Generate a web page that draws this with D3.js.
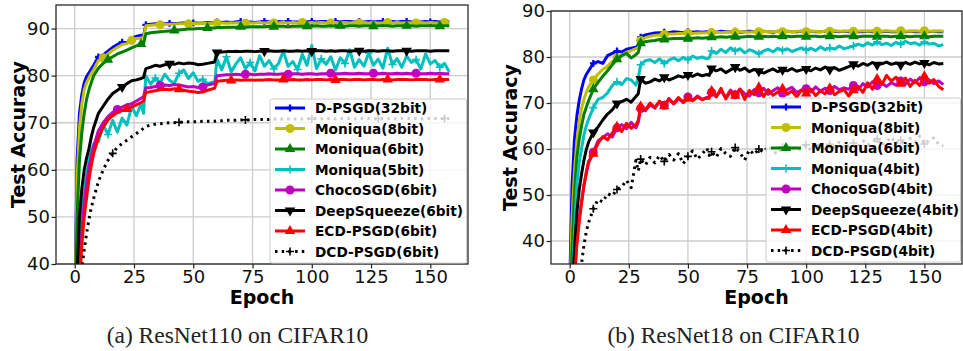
<!DOCTYPE html>
<html>
<head>
<meta charset="utf-8">
<script src="https://cdn.jsdelivr.net/npm/d3@7"></script>
<style>
  body { margin: 0; background: #fff; }
  svg text { font-family: "DejaVu Sans", sans-serif; }
</style>
</head>
<body>
<svg id="chart" width="963" height="351"></svg>
<script>
const epochs = [0,1,2,3,4,5,6,7,8,
  10,12,14,16,18,20,22,24,26,28,
  29,
  30,32,34,36,38,40,42,44,46,48,50,52,54,56,58,
  59,
  60,62,64,66,68,70,72,74,76,78,
  80,82,84,86,88,90,92,94,96,98,
  100,102,104,106,108,110,112,114,116,118,
  120,122,124,126,128,130,132,134,136,138,
  140,142,144,146,148,150,152,154,156,158];

const xTicks = [0, 25, 50, 75, 100, 125, 150];
const yTicksA = [40, 50, 60, 70, 80, 90];
const yTicksB = [40, 50, 60, 70, 80, 90];

const namesA = ['D-PSGD(32bit)', 'Moniqua(8bit)', 'Moniqua(6bit)', 'Moniqua(5bit)',
  'ChocoSGD(6bit)', 'DeepSqueeze(6bit)', 'ECD-PSGD(6bit)', 'DCD-PSGD(6bit)'];
const namesB = ['D-PSGD(32bit)', 'Moniqua(8bit)', 'Moniqua(6bit)', 'Moniqua(4bit)',
  'ChocoSGD(4bit)', 'DeepSqueeze(4bit)', 'ECD-PSGD(4bit)', 'DCD-PSGD(4bit)'];

// ---- (a) ResNet110 on CIFAR10 ----
const a_dpsgd = [30, 62, 72, 76, 78.5, 79.8, 80.6, 81.4, 82.2,
  84.0, 84.4, 85.2, 86.0, 86.6, 87.1, 86.9, 88.0, 88.3, 88.6,
  88.4,
  90.8, 90.9, 91.0, 90.9, 91.0, 91.1, 91.0, 91.1, 91.2, 91.1, 91.2, 91.1, 91.2, 91.3, 91.2,
  91.2,
  91.4, 91.3, 91.4, 91.3, 91.4, 91.5, 91.4, 91.4, 91.3, 91.4,
  91.5, 91.4, 91.4, 91.5, 91.4, 91.5, 91.4, 91.4, 91.5, 91.4,
  91.5, 91.4, 91.5, 91.5, 91.4, 91.5, 91.4, 91.5, 91.5, 91.4,
  91.5, 91.4, 91.5, 91.4, 91.5, 91.5, 91.4, 91.5, 91.4, 91.5,
  91.5, 91.4, 91.5, 91.4, 91.5, 91.4, 91.5, 91.4, 91.5, 91.4];
const a_moniqua8 = [28, 58, 69, 74, 77, 78.5, 79.5, 80.5, 81.3,
  83.2, 83.8, 84.6, 85.4, 86.0, 86.6, 86.8, 87.5, 87.9, 88.0,
  88.1,
  90.6, 90.7, 90.8, 90.8, 90.9, 90.9, 90.9, 91.0, 91.0, 91.0, 91.1, 91.0, 91.1, 91.1, 91.0,
  91.1,
  91.2, 91.2, 91.1, 91.2, 91.2, 91.3, 91.2, 91.2, 91.2, 91.3,
  91.2, 91.3, 91.2, 91.2, 91.3, 91.2, 91.3, 91.2, 91.3, 91.2,
  91.3, 91.2, 91.3, 91.2, 91.2, 91.3, 91.2, 91.3, 91.2, 91.3,
  91.2, 91.3, 91.2, 91.3, 91.2, 91.2, 91.3, 91.2, 91.3, 91.2,
  91.3, 91.2, 91.2, 91.3, 91.2, 91.3, 91.2, 91.2, 91.3, 91.2];
const a_moniqua6 = [24, 50, 62, 68, 72, 75, 77, 78.6, 80,
  81.6, 82.6, 83.4, 84.0, 84.6, 85.0, 85.4, 85.9, 86.3, 86.7,
  86.7,
  88.9, 89.1, 89.2, 89.3, 89.4, 89.5, 89.6, 89.7, 89.8, 89.9, 89.9, 90.0, 90.0, 90.1, 90.1,
  90.1,
  90.2, 90.2, 90.3, 90.3, 90.3, 90.4, 90.3, 90.4, 90.4, 90.4,
  90.4, 90.5, 90.4, 90.5, 90.5, 90.4, 90.5, 90.5, 90.5, 90.5,
  90.5, 90.6, 90.5, 90.5, 90.6, 90.5, 90.6, 90.5, 90.6, 90.6,
  90.5, 90.6, 90.6, 90.5, 90.6, 90.6, 90.6, 90.5, 90.6, 90.6,
  90.6, 90.6, 90.5, 90.6, 90.6, 90.6, 90.6, 90.5, 90.6, 90.6];
const a_moniqua5 = [18, 32, 42, 50, 55, 59, 62, 64, 65.5,
  66.0, 69.5, 67.5, 70.5, 68.0, 71.0, 69.5, 73.5, 71.5, 74.0,
  72.0,
  80.0, 78.2, 79.5, 78.5, 80.3, 79.0, 78.4, 80.5, 81.2, 79.4, 80.6, 78.8, 79.2, 78.3, 78.6,
  78.2,
  83.5, 81.2, 84.0, 80.8, 82.5, 83.8, 81.5, 82.8, 81.0, 84.2,
  82.0, 83.2, 81.4, 82.6, 85.2, 82.0, 83.0, 81.3, 84.5, 82.2,
  86.4, 81.5, 83.6, 82.4, 84.0, 81.2, 83.8, 82.6, 85.5, 81.8,
  83.4, 82.0, 84.8, 82.2, 83.5, 81.6, 85.8, 82.4, 83.6, 81.8,
  84.2, 82.8, 83.4, 81.4, 84.6, 82.5, 83.2, 81.8, 82.6, 80.8];
const a_choco = [20, 30, 40, 47, 53, 57, 60.5, 63, 65,
  68.3, 70.0, 71.3, 72.2, 72.8, 73.3, 73.8, 74.0, 74.6, 75.2,
  75.5,
  77.4, 77.5, 77.7, 77.9, 78.0, 77.9, 78.1, 78.0, 77.8, 77.6, 77.7, 77.5, 77.6, 78.0, 78.2,
  78.3,
  80.0, 80.1, 80.2, 80.2, 80.3, 80.2, 80.3, 80.3, 80.2, 80.3,
  80.3, 80.4, 80.3, 80.3, 80.4, 80.3, 80.4, 80.4, 80.3, 80.4,
  80.4, 80.3, 80.4, 80.4, 80.5, 80.4, 80.4, 80.5, 80.4, 80.4,
  80.5, 80.4, 80.4, 80.5, 80.4, 80.5, 80.4, 80.4, 80.5, 80.4,
  80.5, 80.4, 80.5, 80.4, 80.4, 80.5, 80.4, 80.5, 80.4, 80.4];
const a_deepsq = [20, 38, 50, 56, 60, 62.5, 64.5, 67, 69,
  72.0, 73.5, 75.0, 76.2, 76.9, 77.6, 78.3, 78.9, 79.1, 79.4,
  79.6,
  81.5, 81.8, 82.2, 82.0, 82.3, 82.5, 82.4, 82.7, 82.5, 82.7, 82.6, 82.3, 82.4, 82.6, 82.8,
  82.9,
  84.9, 85.0, 85.1, 85.1, 85.2, 85.1, 85.2, 85.2, 85.1, 85.2,
  85.2, 85.3, 85.2, 85.2, 85.3, 85.2, 85.2, 85.3, 85.2, 85.3,
  85.2, 85.3, 85.3, 85.2, 85.3, 85.2, 85.3, 85.3, 85.2, 85.3,
  85.3, 85.2, 85.3, 85.3, 85.2, 85.3, 85.3, 85.2, 85.3, 85.3,
  85.3, 85.2, 85.3, 85.3, 85.3, 85.2, 85.3, 85.3, 85.3, 85.3];
const a_ecd = [10, 22, 35, 44, 50, 54, 58, 61, 63.5,
  66.8, 69.0, 70.6, 71.5, 72.2, 72.6, 72.9, 73.3, 73.8, 74.3,
  74.6,
  76.4, 76.6, 76.8, 77.0, 77.1, 77.0, 77.2, 77.1, 76.9, 76.7, 76.6, 76.4, 76.5, 76.9, 77.2,
  77.3,
  78.8, 78.9, 79.0, 79.0, 79.1, 79.0, 79.1, 79.1, 79.0, 79.1,
  79.1, 79.2, 79.1, 79.1, 79.2, 79.1, 79.2, 79.1, 79.1, 79.2,
  79.1, 79.2, 79.2, 79.1, 79.2, 79.1, 79.2, 79.2, 79.1, 79.2,
  79.2, 79.1, 79.2, 79.2, 79.1, 79.2, 79.2, 79.1, 79.2, 79.2,
  79.2, 79.1, 79.2, 79.2, 79.2, 79.1, 79.2, 79.2, 79.2, 79.2];
const a_dcd = [10, 20, 30, 39, 43, 46.5, 49.5, 52, 54,
  57.5, 60.0, 62.0, 63.5, 64.8, 65.6, 66.3, 67.0, 67.7, 68.4,
  68.8,
  69.2, 69.5, 69.7, 69.8, 69.9, 70.0, 70.0, 70.1, 70.1, 70.2, 70.2, 70.2, 70.3, 70.3, 70.3,
  70.3,
  70.4, 70.4, 70.5, 70.5, 70.5, 70.6, 70.6, 70.6, 70.7, 70.7,
  70.7, 70.7, 70.8, 70.7, 70.8, 70.8, 70.8, 70.8, 70.8, 70.9,
  70.8, 70.9, 70.8, 70.9, 70.9, 70.8, 70.9, 70.9, 70.9, 70.8,
  70.9, 70.9, 70.9, 70.8, 70.9, 70.9, 70.9, 70.9, 70.8, 70.9,
  70.9, 70.9, 70.9, 70.8, 70.9, 70.9, 70.9, 70.8, 70.9, 70.9];

// ---- (b) ResNet18 on CIFAR10 ----
const b_dpsgd = [30, 52, 62, 67, 70.5, 73, 75, 76.2, 77,
  78.6, 79.0, 78.6, 80.3, 80.8, 81.3, 81.1, 81.7, 81.9, 82.1,
  82.4,
  84.3, 84.8, 85.0, 85.2, 85.3, 85.4, 85.3, 85.5, 85.4, 85.3, 85.5, 85.4, 85.5, 85.4, 85.5,
  85.4,
  85.5, 85.4, 85.6, 85.5, 85.5, 85.6, 85.4, 85.5, 85.6, 85.5,
  85.5, 85.6, 85.5, 85.4, 85.6, 85.5, 85.6, 85.5, 85.5, 85.6,
  85.5, 85.6, 85.5, 85.5, 85.6, 85.5, 85.6, 85.5, 85.6, 85.5,
  85.6, 85.5, 85.5, 85.6, 85.5, 85.6, 85.5, 85.6, 85.5, 85.5,
  85.6, 85.5, 85.6, 85.5, 85.5, 85.6, 85.5, 85.6, 85.5, 85.5];
const b_moniqua8 = [26, 45, 55, 61.5, 66, 68.8, 70.8, 72.3, 73.5,
  75.0, 76.3, 77.3, 78.0, 79.0, 79.8, 80.4, 81.0, 81.4, 81.8,
  82.0,
  83.6, 84.2, 84.5, 84.7, 84.8, 84.9, 85.0, 85.0, 85.1, 85.1, 85.2, 85.1, 85.2, 85.2, 85.3,
  85.2,
  85.3, 85.4, 85.3, 85.4, 85.5, 85.4, 85.5, 85.5, 85.4, 85.5,
  85.5, 85.6, 85.5, 85.5, 85.6, 85.5, 85.6, 85.5, 85.6, 85.6,
  85.5, 85.6, 85.6, 85.5, 85.6, 85.6, 85.7, 85.6, 85.6, 85.7,
  85.6, 85.6, 85.7, 85.6, 85.7, 85.6, 85.6, 85.7, 85.6, 85.6,
  85.7, 85.6, 85.6, 85.7, 85.6, 85.7, 85.6, 85.6, 85.7, 85.6];
const b_moniqua6 = [24, 38, 50, 58, 62, 65, 67.5, 69, 70.5,
  73.0, 74.5, 75.8, 77.0, 78.3, 79.5, 80.3, 80.8, 79.8, 80.5,
  81.0,
  83.0, 83.3, 83.5, 83.6, 83.8, 83.8, 83.9, 84.0, 84.0, 84.1, 84.0, 84.1, 84.2, 84.1, 84.2,
  84.2,
  84.3, 84.3, 84.4, 84.3, 84.4, 84.4, 84.3, 84.4, 84.5, 84.4,
  84.4, 84.5, 84.4, 84.5, 84.4, 84.5, 84.5, 84.4, 84.5, 84.5,
  84.4, 84.5, 84.5, 84.4, 84.5, 84.5, 84.5, 84.4, 84.5, 84.5,
  84.5, 84.4, 84.5, 84.5, 84.5, 84.4, 84.5, 84.5, 84.4, 84.5,
  84.5, 84.5, 84.4, 84.5, 84.5, 84.5, 84.4, 84.5, 84.5, 84.5];
const b_moniqua4 = [18, 30, 42, 52, 57, 60, 63, 65, 66.5,
  69.0, 70.8, 71.2, 72.2, 73.8, 74.6, 74.0, 75.3, 75.0, 73.9,
  75.5,
  78.3, 79.2, 79.4, 78.8, 79.6, 78.6, 79.3, 79.8, 79.2, 79.9, 79.4, 80.2, 79.7, 80.0, 79.6,
  79.8,
  81.3, 80.8, 81.7, 81.0, 82.0, 81.3, 81.8, 80.9, 81.6, 81.2,
  80.7, 81.3, 81.7, 81.1, 81.9, 81.4, 81.8, 81.2, 81.6, 82.0,
  81.5, 81.9, 81.4, 82.2, 81.6, 82.0, 81.7, 82.4, 81.8, 82.1,
  82.4, 82.8, 82.4, 83.1, 82.6, 83.3, 82.7, 83.0, 82.5, 83.2,
  82.8, 83.4, 82.9, 83.1, 82.6, 83.3, 82.8, 83.0, 82.4, 82.7];
const b_choco = [10, 22, 33, 40, 45, 48.5, 52, 54.5, 57,
  59.3, 61.8, 62.5, 63.3, 62.6, 64.6, 65.3, 64.4, 65.8, 64.6,
  65.8,
  68.8, 68.3, 69.6, 68.9, 70.3, 69.5, 71.0, 69.8, 70.9, 70.3, 71.3, 70.6, 71.5, 70.8, 71.2,
  71.4,
  72.3, 71.5, 72.6, 71.2, 72.8, 71.8, 73.0, 72.0, 71.5, 72.9,
  72.2, 73.2, 71.9, 72.7, 73.3, 72.1, 72.9, 73.4, 72.3, 72.8,
  73.1, 72.4, 73.5, 72.6, 73.2, 72.7, 73.6, 72.9, 73.3, 73.0,
  73.8, 72.9, 74.2, 73.5, 74.6, 73.8, 74.3, 73.6, 74.4, 73.9,
  74.8, 74.1, 75.2, 74.4, 75.5, 74.6, 75.0, 74.2, 74.8, 74.0];
const b_deepsq = [15, 28, 38, 46, 51, 54.5, 57.5, 59.8, 61.5,
  63.6, 64.8, 66.3, 67.6, 68.5, 69.9, 70.3, 70.8, 70.2, 71.4,
  72.0,
  75.2, 74.3, 74.6, 75.2, 74.8, 75.6, 75.0, 75.4, 75.9, 75.6, 76.1, 75.8, 76.3, 75.9, 76.2,
  76.0,
  77.5, 77.0, 77.4, 76.6, 77.2, 77.8, 77.1, 77.6, 76.8, 77.3,
  76.9, 76.5, 77.0, 77.4, 76.8, 77.2, 77.0, 77.5, 76.9, 77.2,
  77.4, 77.0, 77.6, 77.2, 77.8, 77.3, 77.7, 77.1, 77.5, 77.9,
  78.4, 78.0, 78.6, 78.2, 78.8, 78.3, 78.5, 78.9, 78.4, 78.7,
  78.3, 78.8, 78.4, 78.9, 78.5, 78.7, 78.3, 78.8, 78.5, 78.6];
const b_ecd = [8, 20, 31, 39, 44, 48.2, 52, 55, 57.3,
  59.0, 61.2, 62.7, 62.0, 63.5, 64.8, 63.8, 65.6, 64.5, 65.3,
  66.2,
  69.2, 68.5, 70.0, 69.0, 70.4, 69.3, 70.8, 69.9, 71.2, 70.1, 71.0, 70.5, 71.3, 70.7, 71.1,
  71.0,
  72.6, 71.3, 73.2, 70.9, 72.5, 71.6, 73.0, 70.8, 72.7, 71.8,
  73.4, 71.4, 72.9, 71.7, 72.4, 73.1, 71.9, 72.6, 71.3, 72.8,
  72.1, 73.0, 71.6, 72.6, 72.0, 73.2, 71.8, 72.5, 72.9, 71.5,
  72.8, 73.6, 72.3, 74.4, 73.0, 75.2, 74.0, 76.0, 74.8, 75.6,
  74.2, 75.4, 73.6, 74.9, 73.8, 75.8, 74.3, 75.1, 73.6, 72.9];
const b_dcd = [5, 15, 22, 28, 32, 35, 39, 42, 44,
  47.0, 49.0, 48.5, 50.3, 49.8, 51.2, 51.8, 53.2, 51.6, 57.5,
  55.2,
  57.8, 56.5, 58.2, 57.0, 58.6, 57.3, 58.8, 57.6, 59.0, 56.8, 58.4, 59.6, 57.8, 58.9, 60.2,
  58.6,
  59.4, 58.2, 60.1, 59.0, 58.4, 60.3, 59.2, 57.6, 59.8, 58.8,
  60.0, 59.3, 60.6, 59.5, 58.9, 60.4, 59.8, 60.8, 59.6, 60.2,
  60.9, 59.7, 61.2, 60.3, 59.9, 61.0, 60.4, 61.5, 60.1, 60.8,
  61.3, 60.6, 61.8, 60.9, 61.4, 62.2, 60.8, 61.6, 62.6, 61.2,
  61.9, 60.7, 62.3, 61.5, 62.8, 61.1, 61.9, 62.4, 61.0, 60.6];

// line styles, same order as the names
const styles = [
  {color: '#0000ff', marker: 'P'},
  {color: '#bfbf00', marker: 'o'},
  {color: '#008000', marker: '^'},
  {color: '#00bfbf', marker: '+'},
  {color: '#bf00bf', marker: 'o'},
  {color: '#000000', marker: 'v'},
  {color: '#ff0000', marker: '^'},
  {color: '#000000', marker: '+', dash: '2.5,4.2'}
];

const svg = d3.select('#chart');

function marker(sel, type, color) {
  if (type === 'o') {
    sel.append('circle').attr('r', 4.5).attr('fill', color);
  } else if (type === '^' || type === 'v') {
    sel.append('path')
      .attr('d', d3.symbol(d3.symbolTriangle, 48)())
      .attr('transform', type === 'v' ? 'rotate(180)' : null)
      .attr('fill', color);
  } else if (type === 'P') {
    sel.append('path').attr('d', d3.symbol(d3.symbolCross, 26)()).attr('fill', color);
  } else {
    sel.append('path').attr('d', 'M-4,0H4M0,-4V4')
      .attr('stroke', color).attr('stroke-width', 1.6).attr('fill', 'none');
  }
}

function panel(o) {
  const x = d3.scaleLinear().domain([-7.9, 165.9]).range([o.left, o.right]);
  const y = d3.scaleLinear().domain(o.yDomain).range([o.bottom, o.top]);
  const g = svg.append('g');

  g.append('clipPath').attr('id', 'clip' + o.id).append('rect')
    .attr('x', o.left).attr('y', o.top)
    .attr('width', o.right - o.left).attr('height', o.bottom - o.top);

  // grid
  g.append('g').selectAll('line').data(xTicks).join('line')
    .attr('x1', d => x(d)).attr('x2', d => x(d))
    .attr('y1', o.top).attr('y2', o.bottom)
    .attr('stroke', '#cccccc').attr('stroke-width', 1.3);
  g.append('g').selectAll('line').data(o.yTicks).join('line')
    .attr('x1', o.left).attr('x2', o.right)
    .attr('y1', d => y(d)).attr('y2', d => y(d))
    .attr('stroke', '#cccccc').attr('stroke-width', 1.3);

  const plot = g.append('g').attr('clip-path', `url(#clip${o.id})`);
  const line = d3.line().x((d, i) => x(epochs[i])).y(d => y(d));

  o.series.forEach((s, k) => {
    const st = styles[k];
    plot.append('path').datum(s)
      .attr('d', line)
      .attr('fill', 'none')
      .attr('stroke', st.color)
      .attr('stroke-width', 3)
      .attr('stroke-linejoin', 'round')
      .attr('stroke-dasharray', st.dash || null);
    const every = o.every[k];
    const pts = s.map((v, i) => [epochs[i], v])
      .filter(p => p[0] > 0 && p[0] % every[0] === every[1]);
    plot.append('g').selectAll('g').data(pts).join('g')
      .attr('transform', p => `translate(${x(p[0])},${y(p[1])})`)
      .each(function () { marker(d3.select(this), st.marker, st.color); });
  });

  // frame
  g.append('rect')
    .attr('x', o.left).attr('y', o.top)
    .attr('width', o.right - o.left).attr('height', o.bottom - o.top)
    .attr('fill', 'none').attr('stroke', '#222').attr('stroke-width', 1.25);

  const ax = g.append('g').attr('transform', `translate(0,${o.bottom})`)
    .call(d3.axisBottom(x).tickValues(xTicks).tickSize(4.5).tickPadding(1.5));
  const ay = g.append('g').attr('transform', `translate(${o.left},0)`)
    .call(d3.axisLeft(y).tickValues(o.yTicks).tickSize(4.5).tickPadding(1.5));
  [ax, ay].forEach(a => {
    a.attr('font-family', null).attr('font-size', null);
    a.select('.domain').remove();
    a.selectAll('.tick line').attr('stroke', '#222').attr('stroke-width', 1.2);
    a.selectAll('text').attr('font-size', 18).attr('fill', '#111');
  });

  g.append('text')
    .attr('x', (o.left + o.right) / 2).attr('y', 304)
    .attr('text-anchor', 'middle')
    .attr('font-size', 19).attr('font-weight', 'bold')
    .text('Epoch');
  g.append('text')
    .attr('transform', `translate(${o.yLabelX},${(o.top + o.bottom) / 2}) rotate(-90)`)
    .attr('text-anchor', 'middle')
    .attr('font-size', 19).attr('font-weight', 'bold')
    .text('Test Accuracy');

  // legend
  const lg = g.append('g').attr('transform', `translate(${o.legend[0]},${o.legend[1]})`);
  lg.append('rect')
    .attr('x', 0).attr('y', 0).attr('width', o.right - 1.5 - o.legend[0]).attr('height', 164)
    .attr('rx', 2)
    .attr('fill', '#fff').attr('fill-opacity', 0.8)
    .attr('stroke', '#cccccc').attr('stroke-width', 1);
  o.names.forEach((name, k) => {
    const st = styles[k];
    const row = lg.append('g').attr('transform', `translate(0,${9 + k * 20.5})`);
    row.append('line').attr('x1', 5).attr('x2', 35)
      .attr('stroke', st.color).attr('stroke-width', 3)
      .attr('stroke-dasharray', st.dash || null);
    marker(row.append('g').attr('transform', 'translate(20,0)'), st.marker, st.color);
    row.append('text').attr('x', 45).attr('y', 5)
      .attr('font-size', 13.7).attr('font-weight', 'bold')
      .text(name);
  });

  svg.append('text')
    .attr('x', o.captionX).attr('y', 343)
    .attr('text-anchor', 'middle')
    .style('font-family', '"Liberation Serif", "Times New Roman", serif')
    .attr('font-size', 23.5).attr('fill', '#222')
    .text(o.caption);
}

panel({
  id: 'a', left: 56, right: 468, top: 5, bottom: 264,
  yDomain: [40, 95], yTicks: yTicksA, yLabelX: 25,
  series: [a_dpsgd, a_moniqua8, a_moniqua6, a_moniqua5, a_choco, a_deepsq, a_ecd, a_dcd],
  names: namesA,
  every: [[10, 0], [12, 0], [14, 0], [10, 4], [18, 0], [20, 0], [22, 0], [28, 16]],
  legend: [270, 99],
  caption: '(a) ResNet110 on CIFAR10', captionX: 237.5
});

panel({
  id: 'b', left: 551, right: 962, top: 11, bottom: 264,
  yDomain: [35, 90], yTicks: yTicksB, yLabelX: 517,
  series: [b_dpsgd, b_moniqua8, b_moniqua6, b_moniqua4, b_choco, b_deepsq, b_ecd, b_dcd],
  names: namesB,
  every: [[10, 0], [10, 0], [10, 0], [10, 0], [10, 0], [10, 0], [10, 0], [10, 0]],
  legend: [766, 98],
  caption: '(b) ResNet18 on CIFAR10', captionX: 733.5
});
</script>
</body>
</html>
